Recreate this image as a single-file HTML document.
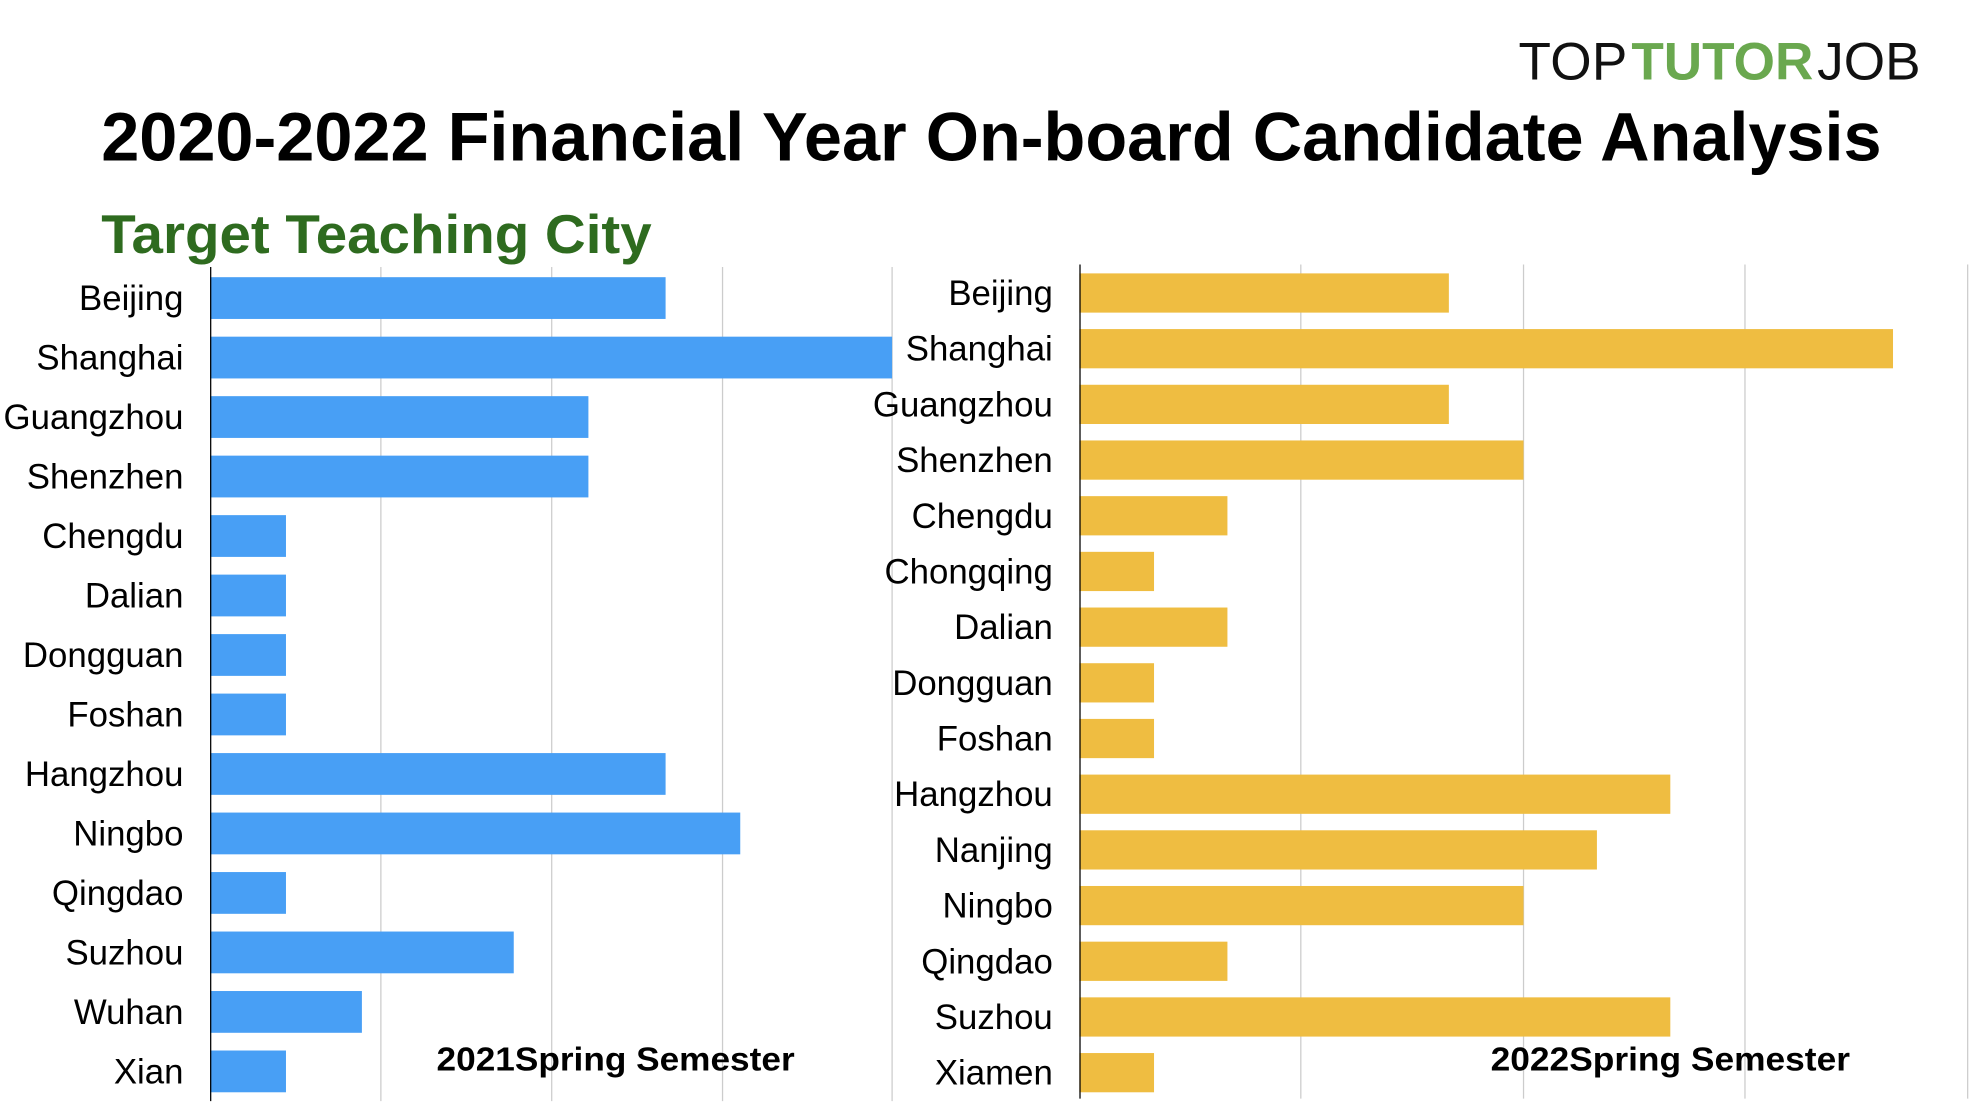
<!DOCTYPE html>
<html><head><meta charset="utf-8"><style>html,body{margin:0;padding:0;background:#fff}svg{display:block}</style></head>
<body>
<svg width="1974" height="1110" viewBox="0 0 1560 877" preserveAspectRatio="none" xmlns="http://www.w3.org/2000/svg" font-family="Liberation Sans, Arial, sans-serif">
<rect width="1560" height="877" fill="#fff"/>
<text x="1200" y="63" font-size="42"><tspan fill="#111" textLength="86">TOP</tspan><tspan fill="#6aa84f" font-weight="bold" dx="3">TUTOR</tspan><tspan fill="#111" dx="3">JOB</tspan></text>
<text x="80" y="127" font-size="54" font-weight="bold" fill="#000" textLength="1407" lengthAdjust="spacingAndGlyphs">2020-2022 Financial Year On-board Candidate Analysis</text>
<text x="80" y="200" font-size="43" font-weight="bold" fill="#2e6b1f" textLength="435" lengthAdjust="spacingAndGlyphs">Target Teaching City</text>
<g stroke="#cccccc" stroke-width="1">
<line x1="301" y1="211" x2="301" y2="870"/><line x1="436" y1="211" x2="436" y2="870"/><line x1="571" y1="211" x2="571" y2="870"/><line x1="705" y1="211" x2="705" y2="870"/>
<line x1="1028" y1="209" x2="1028" y2="868"/><line x1="1204" y1="209" x2="1204" y2="868"/><line x1="1379" y1="209" x2="1379" y2="868"/><line x1="1555" y1="209" x2="1555" y2="868"/>
</g>
<g fill="#489ff5">
<rect x="166" y="219" width="360" height="33"/>
<rect x="166" y="266" width="539" height="33"/>
<rect x="166" y="313" width="299" height="33"/>
<rect x="166" y="360" width="299" height="33"/>
<rect x="166" y="407" width="60" height="33"/>
<rect x="166" y="454" width="60" height="33"/>
<rect x="166" y="501" width="60" height="33"/>
<rect x="166" y="548" width="60" height="33"/>
<rect x="166" y="595" width="360" height="33"/>
<rect x="166" y="642" width="419" height="33"/>
<rect x="166" y="689" width="60" height="33"/>
<rect x="166" y="736" width="240" height="33"/>
<rect x="166" y="783" width="120" height="33"/>
<rect x="166" y="830" width="60" height="33"/>
</g>
<g fill="#efbd41">
<rect x="853" y="216" width="292" height="31"/>
<rect x="853" y="260" width="643" height="31"/>
<rect x="853" y="304" width="292" height="31"/>
<rect x="853" y="348" width="351" height="31"/>
<rect x="853" y="392" width="117" height="31"/>
<rect x="853" y="436" width="59" height="31"/>
<rect x="853" y="480" width="117" height="31"/>
<rect x="853" y="524" width="59" height="31"/>
<rect x="853" y="568" width="59" height="31"/>
<rect x="853" y="612" width="467" height="31"/>
<rect x="853" y="656" width="409" height="31"/>
<rect x="853" y="700" width="351" height="31"/>
<rect x="853" y="744" width="117" height="31"/>
<rect x="853" y="788" width="467" height="31"/>
<rect x="853" y="832" width="59" height="31"/>
</g>
<line x1="166.5" y1="211" x2="166.5" y2="870" stroke="#000" stroke-width="1"/>
<line x1="853.5" y1="209" x2="853.5" y2="868" stroke="#000" stroke-width="1"/>
<g font-size="27.5" fill="#000" text-anchor="end">
<text x="145" y="245">Beijing</text>
<text x="145" y="292">Shanghai</text>
<text x="145" y="339">Guangzhou</text>
<text x="145" y="386">Shenzhen</text>
<text x="145" y="433">Chengdu</text>
<text x="145" y="480">Dalian</text>
<text x="145" y="527">Dongguan</text>
<text x="145" y="574">Foshan</text>
<text x="145" y="621">Hangzhou</text>
<text x="145" y="668">Ningbo</text>
<text x="145" y="715">Qingdao</text>
<text x="145" y="762">Suzhou</text>
<text x="145" y="809">Wuhan</text>
<text x="145" y="856">Xian</text>
<text x="832" y="241">Beijing</text>
<text x="832" y="285">Shanghai</text>
<text x="832" y="329">Guangzhou</text>
<text x="832" y="373">Shenzhen</text>
<text x="832" y="417">Chengdu</text>
<text x="832" y="461">Chongqing</text>
<text x="832" y="505">Dalian</text>
<text x="832" y="549">Dongguan</text>
<text x="832" y="593">Foshan</text>
<text x="832" y="637">Hangzhou</text>
<text x="832" y="681">Nanjing</text>
<text x="832" y="725">Ningbo</text>
<text x="832" y="769">Qingdao</text>
<text x="832" y="813">Suzhou</text>
<text x="832" y="857">Xiamen</text>
</g>
<text x="345" y="846" font-size="26" font-weight="bold" textLength="283" lengthAdjust="spacingAndGlyphs">2021Spring Semester</text>
<text x="1178" y="846" font-size="26" font-weight="bold" textLength="284" lengthAdjust="spacingAndGlyphs">2022Spring Semester</text>
</svg>
</body></html>
